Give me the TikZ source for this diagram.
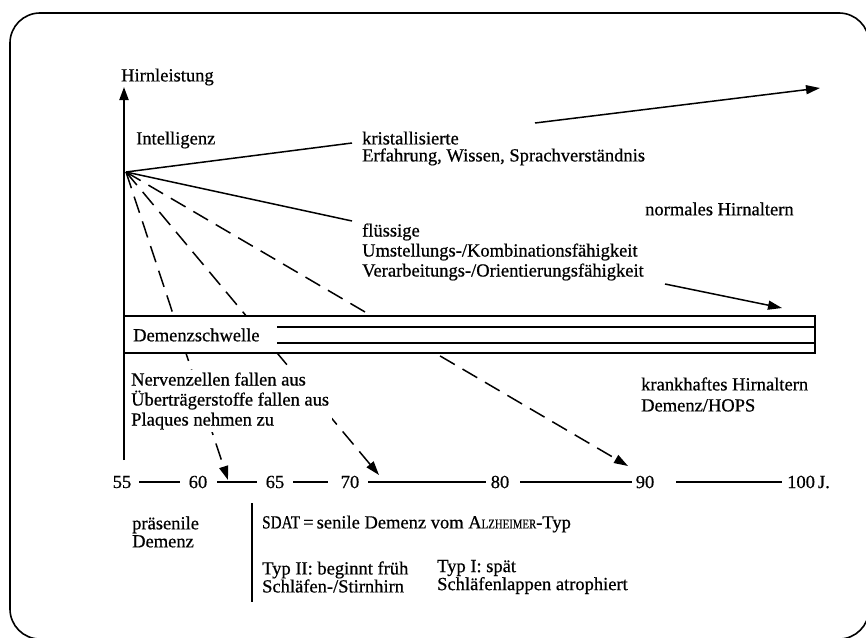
\documentclass[tikz,border=0pt]{standalone}
\usepackage{fontspec}
\setmainfont[FakeBold=0.6]{Liberation Serif}
\usetikzlibrary{arrows.meta}
\newcommand{\lbfont}{\fontsize{18.5}{21}\selectfont}
\begin{document}
\begin{tikzpicture}[x=1pt,y=-1pt,
  frame/.style={line width=1.6pt, rounded corners=30pt},
  axisline/.style={line width=2pt, -{Triangle[length=13pt,width=9pt]}},
  solidline/.style={line width=1.5pt},
  arr/.style={line width=1.5pt, -{Triangle[length=14pt,width=9pt]}},
  dashline/.style={line width=1.5pt, dash pattern=on 17pt off 9pt, -{Triangle[length=14pt,width=9pt]}},
  bandline/.style={line width=1.5pt},
  lbl/.style={inner sep=0pt, anchor=west, align=left, font=\lbfont},
  num/.style={inner sep=0pt, font=\lbfont},
  tl/.style={line width=1.5pt}
]
\useasboundingbox (0,0) rectangle (866,637);
\clip (0,0) rectangle (866,637);
% frame
\draw[frame] (10,13) rectangle (869,639);

% key points
\coordinate (O) at (126,172);
\coordinate (E1) at (228,480);
\coordinate (E2) at (379,475);
\coordinate (E3) at (628,466);

% dashed declines (partly hidden behind band and text)
\draw[dashline] (O) -- (E1);
\draw[dashline] (O) -- (E2);
\draw[dashline] (O) -- (E3);

% Demenzschwelle band
\coordinate (BL) at (124,316);
\coordinate (BR) at (815,353);
\draw[bandline, fill=white] (BL) rectangle (BR);
\coordinate (L1a) at (277,327); \coordinate (L1b) at (815,327);
\coordinate (L2a) at (277,343); \coordinate (L2b) at (815,343);
\draw[bandline] (L1a) -- (L1b);
\draw[bandline] (L2a) -- (L2b);
\node[lbl] (schwelle) at (133,335) {Demenzschwelle};

% text labels
\node[lbl] (hirn) at (121,77) {Hirnleistung};
\node[lbl] (intel) at (136,140) {Intelligenz};
\node[lbl, font=\fontsize{18.5}{17}\selectfont] (krist) at (362,148.5) {kristallisierte\\Erfahrung, Wissen, Sprachverständnis};
\node[lbl, font=\fontsize{18.5}{20}\selectfont] (fluess) at (362,252) {flüssige\\Umstellungs-/Kombinationsfähigkeit\\Verarbeitungs-/Orientierungsfähigkeit};
\node[lbl] (normal) at (645,209) {normales Hirnaltern};
\node[lbl, fill=white, inner sep=3pt, font=\fontsize{18.5}{20}\selectfont] (nerven) at (128,401) {Nervenzellen fallen aus\\Überträgerstoffe fallen aus\\Plaques nehmen zu};
\node[lbl] (krank) at (641,394.5) {krankhaftes Hirnaltern\\Demenz/HOPS};
\node[lbl, font=\fontsize{18.5}{18}\selectfont] (praes) at (132,532) {präsenile\\Demenz};
\node[lbl] (sdat) at (262,524) {\scalebox{0.82}[1]{SDAT}\,=\,senile Demenz vom A{\fontsize{13.5}{16}\selectfont\scalebox{0.8}[1]{LZHEIMER}}-Typ};
\node[lbl, font=\fontsize{18.5}{18}\selectfont] (typ2) at (262,577) {Typ II: beginnt früh\\Schläfen-/Stirnhirn};
\node[lbl, font=\fontsize{18.5}{18}\selectfont] (typ1) at (437,577) {Typ I: spät\\Schläfenlappen atrophiert};

% separator
\coordinate (S1) at (252,503);
\coordinate (S2) at (252,602);
\draw[line width=1.6pt] (S1) -- (S2);

% age axis
\node[num] (a55) at (122,482) {55};
\node[num] (a60) at (198,482) {60};
\node[num] (a65) at (275,482) {65};
\node[num] (a70) at (350,482) {70};
\node[num] (a80) at (500,482) {80};
\node[num] (a90) at (645,482) {90};
\node[num, anchor=west] (a100) at (787,482) {100\,J.};
\draw[tl, shorten <=8pt, shorten >=9pt] (a55.east) -- (a60.west);
\draw[tl, shorten <=10pt, shorten >=9pt] (a60.east) -- (a65.west);
\draw[tl, shorten <=9pt, shorten >=13pt] (a65.east) -- (a70.west);
\draw[tl, shorten <=9pt, shorten >=5pt] (a70.east) -- (a80.west);
\draw[tl, shorten <=11pt, shorten >=4pt] (a80.east) -- (a90.west);
\draw[tl, shorten <=22pt, shorten >=5pt] (a90.east) -- (a100.west);

% vertical axis
\coordinate (Ybot) at (124,460);
\coordinate (Ytop) at (124,87);
\draw[axisline] (Ybot) -- (Ytop);

% solid lines from origin
\coordinate (K) at (352,143);
\coordinate (F) at (352,221);
\draw[solidline] (O) -- (K);
\draw[solidline] (O) -- (F);

% trend arrows
\coordinate (T1a) at (535,123); \coordinate (T1b) at (820,88);
\coordinate (T2a) at (665,284); \coordinate (T2b) at (782,308);
\draw[arr] (T1a) -- (T1b);
\draw[arr] (T2a) -- (T2b);
\end{tikzpicture}
\end{document}
